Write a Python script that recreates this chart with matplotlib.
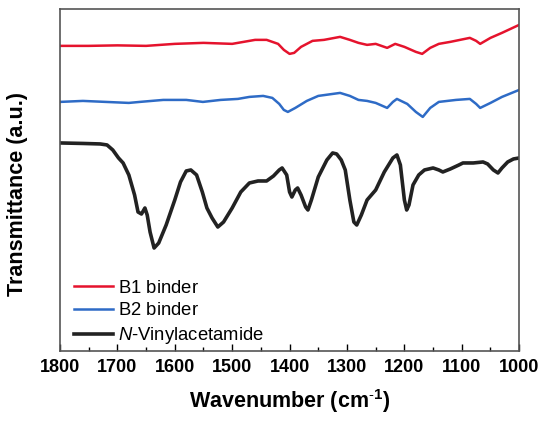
import numpy as np
import matplotlib
matplotlib.use("Agg")
import matplotlib.pyplot as plt
from matplotlib.ticker import MultipleLocator

plt.rc('font', **{'family': 'sans-serif', 'sans-serif': ['Liberation Sans', 'DejaVu Sans']})
plt.rc('mathtext', **{'fontset': 'custom', 'default': 'regular',
                      'rm': 'Liberation Sans', 'it': 'Liberation Sans:italic',
                      'bf': 'Liberation Sans:bold'})

# FTIR spectra (transmittance in arbitrary, stacked units)
wn_b1 = [1800, 1750, 1700, 1650, 1600, 1550, 1500, 1460, 1440, 1430, 1420, 1410, 1400,
         1392, 1380, 1360, 1340, 1312, 1295, 1280, 1265, 1250, 1240, 1230, 1216, 1200,
         1180, 1169, 1155, 1140, 1120, 1086, 1075, 1068, 1050, 1030, 1000]
t_b1 = [305, 305, 305.5, 305, 307, 308, 307, 311, 311, 309, 307, 301, 297,
        298, 304, 310, 311, 314, 311, 308, 306, 307, 305, 303, 307, 304,
        299, 297, 303, 307, 309, 313, 310, 307, 313, 318, 326]

wn_b2 = [1800, 1760, 1720, 1680, 1661, 1620, 1580, 1551, 1520, 1490, 1470, 1446, 1430,
         1418, 1410, 1403, 1390, 1370, 1350, 1312, 1295, 1280, 1265, 1250, 1230, 1220,
         1213, 1195, 1180, 1168, 1155, 1140, 1110, 1086, 1075, 1068, 1050, 1030, 1000]
t_b2 = [249, 250, 249, 248, 249, 251, 251, 249, 251, 252, 254, 255, 253,
        247, 241, 239, 243, 250, 255, 258, 255, 251, 250, 248, 243, 249,
        252, 247, 239, 234, 243, 249, 251, 252, 247, 243, 248, 254, 261]

wn_nva = [1800, 1760, 1730, 1718, 1708, 1698, 1690, 1680, 1670, 1664, 1658, 1652, 1648,
          1643, 1636, 1628, 1615, 1600, 1590, 1580, 1572, 1562, 1552, 1544, 1535, 1525,
          1515, 1500, 1485, 1470, 1455, 1440, 1428, 1418, 1413, 1405, 1400, 1396, 1390,
          1386, 1380, 1372, 1368, 1362, 1350, 1335, 1325, 1318, 1310, 1303, 1295, 1288,
          1283, 1275, 1265, 1250, 1235, 1220, 1213, 1207, 1200, 1196, 1192, 1185, 1175,
          1165, 1150, 1140, 1133, 1120, 1105, 1098, 1080, 1063, 1055, 1045, 1037, 1030,
          1020, 1010, 1000]
t_nva = [208, 207.5, 207, 206, 201, 193, 188, 176, 156, 139, 137, 143, 136,
         119, 103, 108, 126, 151, 169, 180, 181, 176, 159, 143, 133, 124,
         129, 143, 159, 168, 170, 170, 175, 181, 183, 176, 159, 154, 161,
         163, 156, 144, 141, 151, 174, 191, 198, 197, 191, 181, 151, 129,
         126, 136, 151, 161, 179, 193, 196, 186, 151, 141, 146, 166, 176,
         181, 183, 181, 179, 182, 186, 188, 188, 189, 187, 181, 178, 183,
         189, 192, 193]

labels = [r'$B1\ binder$', r'$B2\ binder$', r'$\mathit{N}$-$Vinylacetamide$']
colors = ['#e5132d', '#2e6bc6', '#222222']

fig = plt.figure(figsize=(5.5, 4.21), dpi=100)
ax = fig.add_axes([0.109, 0.166, 0.835, 0.813])

ax.plot(wn_b1, t_b1, color=colors[0], lw=1.8, label=labels[0], solid_joinstyle='round')
ax.plot(wn_b2, t_b2, color=colors[1], lw=1.8, label=labels[1], solid_joinstyle='round')
ax.plot(wn_nva, t_nva, color=colors[2], lw=2.6, label=labels[2], solid_joinstyle='round')

ax.set_xlim(1800, 1000)
ax.set_ylim(0, 342)
ax.xaxis.set_major_locator(MultipleLocator(100))
ax.xaxis.set_minor_locator(MultipleLocator(50))
ax.tick_params(axis='x', which='major', direction='in', length=5, width=1, pad=6,
               labelsize=13, top=False)
ax.tick_params(axis='x', which='minor', direction='in', length=3, width=1, top=False)
ax.set_yticks([])
for lab in ax.get_xticklabels():
    lab.set_fontweight('bold')
for sp in ax.spines.values():
    sp.set_color('#555555')
    sp.set_linewidth(1.2)

ax.set_xlabel(r'Wavenumber (cm$^{\mathbf{\text{-}1}}$)', fontsize=15.5, fontweight='bold',
              labelpad=8)
ax.set_ylabel('Transmittance (a.u.)', fontsize=15.5, fontweight='bold', labelpad=16)
ax.yaxis.set_label_coords(-0.07, 0.46)

ax.legend(loc='lower left', bbox_to_anchor=(0.03, 0.015), frameon=False, fontsize=13.3,
          handlelength=2.1, handletextpad=0.3, labelspacing=0.3, borderpad=0,
          borderaxespad=0)

fig.savefig('out.png', dpi=100)
